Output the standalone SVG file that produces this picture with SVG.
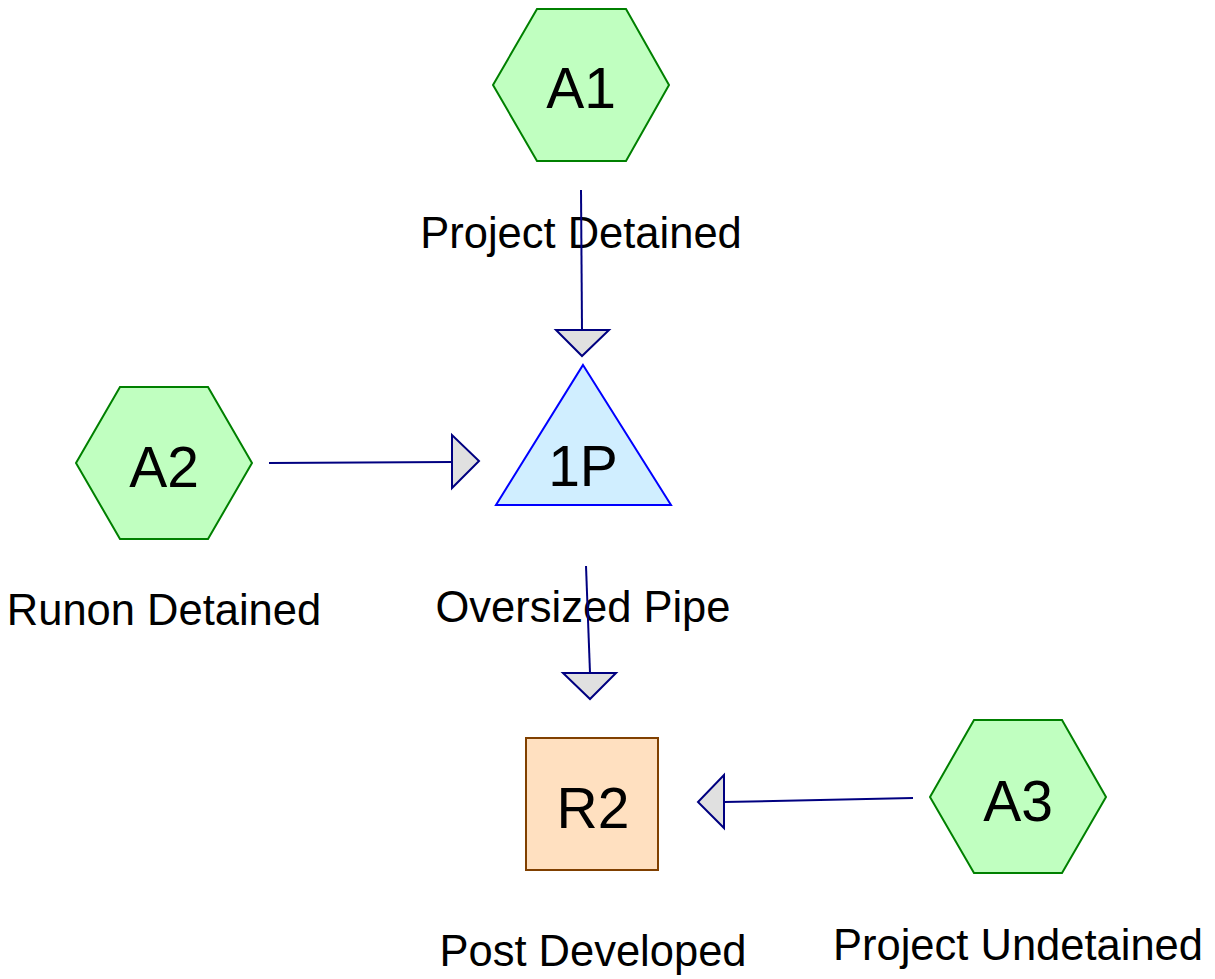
<svg xmlns="http://www.w3.org/2000/svg" width="1215" height="979" viewBox="0 0 1215 979">
<style>
.hex{fill:#c0ffc0;stroke:#008000;stroke-width:2}
.tri{fill:#d0eeff;stroke:#0000ff;stroke-width:2}
.box{fill:#ffe0c0;stroke:#804000;stroke-width:2}
.id{font-family:"Liberation Sans",Arial,sans-serif;font-size:57px;fill:#000;text-anchor:middle}
.lbl{font-family:"Liberation Sans",Arial,sans-serif;font-size:43.5px;fill:#000;text-anchor:middle}
.edge{stroke:#000080;stroke-width:2;fill:none}
.head{fill:#e0e0e0;stroke:#000080;stroke-width:2;stroke-linejoin:miter}
</style>
<rect width="1215" height="979" fill="#fff"/>
<g id="A1">
<polygon class="hex" points="493,85 537,9 626,9 669,85 626,161 537,161"/>
<text class="id" x="581" y="108">A1</text>
<text class="lbl" x="581" y="248">Project Detained</text>
</g>
<g id="A2">
<polygon class="hex" points="76,463 120,387 208,387 252,463 208,539 120,539"/>
<text class="id" x="164" y="487">A2</text>
<text class="lbl" x="164" y="625">Runon Detained</text>
</g>
<g id="P1">
<polygon class="tri" points="583,365 671,505 496,505"/>
<text class="id" x="583" y="486">1P</text>
<text class="lbl" x="583" y="622">Oversized Pipe</text>
</g>
<g id="R2">
<rect class="box" x="526" y="738" width="132" height="132"/>
<text class="id" x="593" y="828">R2</text>
<text class="lbl" x="593" y="966">Post Developed</text>
</g>
<g id="A3">
<polygon class="hex" points="930,797 974,720 1062,720 1106,797 1062,873 974,873"/>
<text class="id" x="1018" y="821">A3</text>
<text class="lbl" x="1018" y="960">Project Undetained</text>
</g>
<g id="connectors">
<line class="edge" x1="581" y1="190" x2="582" y2="330"/>
<polygon class="head" points="556,330 609,330 582,356"/>
<line class="edge" x1="269" y1="463" x2="452" y2="462"/>
<polygon class="head" points="452,435 452,488 479,461"/>
<line class="edge" x1="586" y1="566" x2="590" y2="673"/>
<polygon class="head" points="563,673 616,673 590,699"/>
<line class="edge" x1="913" y1="798" x2="724" y2="802"/>
<polygon class="head" points="724,775 724,828 698,802"/>
</g>
</svg>
